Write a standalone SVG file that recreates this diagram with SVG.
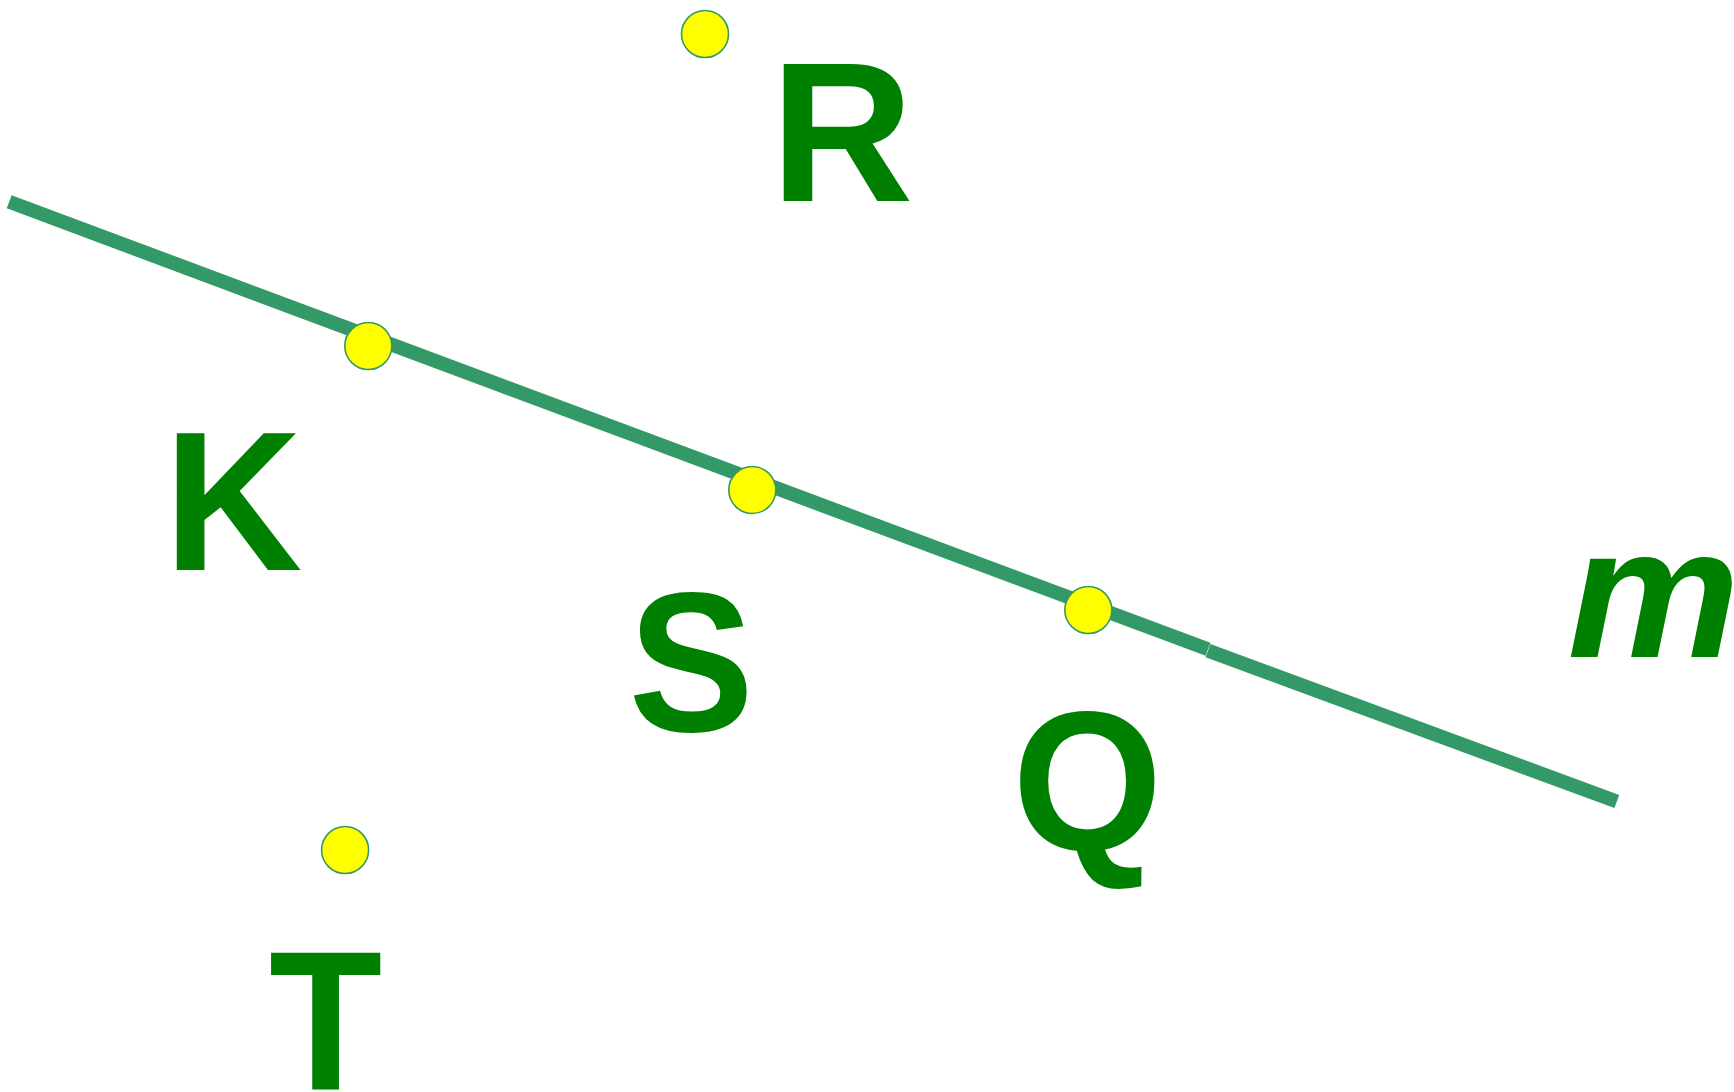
<svg xmlns="http://www.w3.org/2000/svg" width="1734" height="1092" viewBox="0 0 1734 1092">
<style>
.ln{stroke:#339966;stroke-width:14;stroke-linecap:butt;fill:none}
.pt{fill:#ffff00;stroke:#339966;stroke-width:1.6}
.lb{fill:#008000;font-family:"Liberation Sans",Arial,sans-serif;font-weight:bold;font-size:198px}
.it{font-style:italic;font-size:190px;letter-spacing:-12px}
</style>
<rect width="1734" height="1092" fill="#ffffff"/>
<g id="connectors">
<g id="line-m">
<line class="ln" x1="9.2" y1="201.8" x2="1208" y2="649.3"/>
<line class="ln" x1="1208" y1="650.6" x2="1616.8" y2="801.5"/>
<text class="lb it" transform="translate(1567.5,657) scale(1.02,0.98)" x="0" y="0">m</text>
</g>
</g>
<g id="node-R">
<circle class="pt" cx="705" cy="34" r="23.5"/>
<text class="lb" x="770.6" y="201.3">R</text>
</g>
<g id="node-K">
<circle class="pt" cx="368.3" cy="346" r="23.5"/>
<text class="lb" transform="translate(164.1,569.5) scale(0.967,1)" x="0" y="0">K</text>
</g>
<g id="node-S">
<circle class="pt" cx="752.3" cy="490" r="23.5"/>
<text class="lb" transform="translate(691.3,730.5) scale(0.95,1)" x="0" y="0" text-anchor="middle">S</text>
</g>
<g id="node-Q">
<circle class="pt" cx="1088.3" cy="610" r="23.5"/>
<text class="lb" transform="translate(1087.3,850) scale(0.976,1)" x="0" y="0" text-anchor="middle">Q</text>
</g>
<g id="node-T">
<circle class="pt" cx="345.1" cy="850" r="23.5"/>
<text class="lb" transform="translate(325.5,1089.5) scale(0.936,1)" x="0" y="0" text-anchor="middle">T</text>
</g>
</svg>
